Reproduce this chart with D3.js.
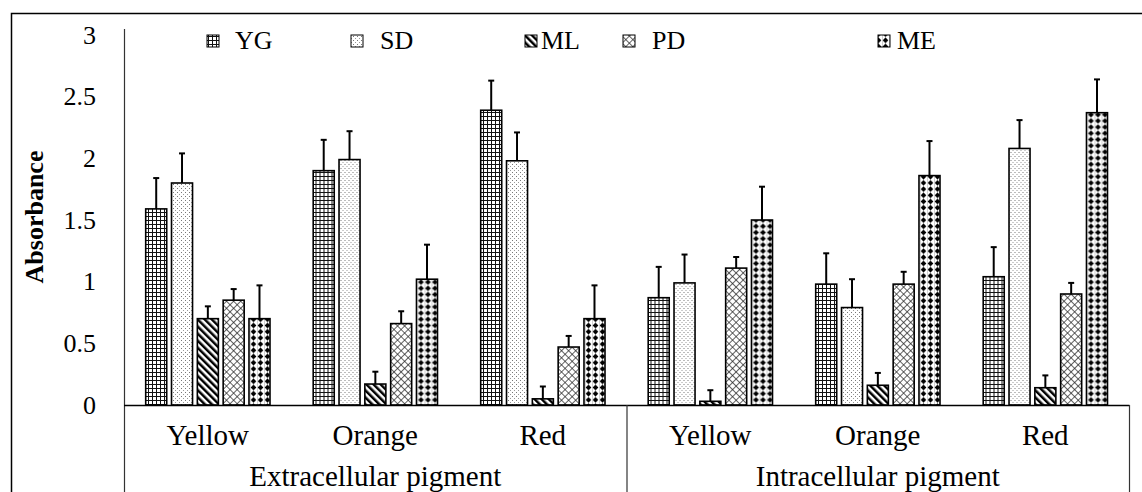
<!DOCTYPE html>
<html lang="en">
<head>
  <meta charset="UTF-8">
  <title>Absorbance of extracellular and intracellular pigments</title>
  <script src="https://d3js.org/d3.v7.min.js"></script>
  <style type="text/css">
    body {
      margin: 0;
      background: #fff;
    }
    svg text {
      font-family: "Liberation Serif", "Times New Roman", serif;
      fill: #000;
    }
  </style>
</head>
<body>
  <div id="chart"></div>

  <script>
    // categories on the x axis (colour of the pigment, two groups of three)
    var colours = ["Yellow", "Orange", "Red", "Yellow", "Orange", "Red"];
    var groups = ["Extracellular pigment", "Intracellular pigment"];
    var seriesNames = ["YG", "SD", "ML", "PD", "ME"];
    var yTicks = [0, 0.5, 1, 1.5, 2, 2.5, 3];

    // mean absorbance, one value per category
    var YG = [1.59, 1.90, 2.39, 0.87, 0.98, 1.04];
    var SD = [1.80, 1.99, 1.98, 0.99, 0.79, 2.08];
    var ML = [0.70, 0.17, 0.05, 0.03, 0.16, 0.14];
    var PD = [0.85, 0.66, 0.47, 1.11, 0.98, 0.90];
    var ME = [0.70, 1.02, 0.70, 1.50, 1.86, 2.37];

    // error bar heights (upper side only)
    var YGerr = [0.25, 0.25, 0.24, 0.25, 0.25, 0.24];
    var SDerr = [0.24, 0.23, 0.23, 0.23, 0.23, 0.23];
    var MLerr = [0.10, 0.10, 0.10, 0.09, 0.10, 0.10];
    var PDerr = [0.09, 0.10, 0.09, 0.09, 0.10, 0.09];
    var MEerr = [0.27, 0.28, 0.27, 0.27, 0.28, 0.27];

    var values = {YG: YG, SD: SD, ML: ML, PD: PD, ME: ME};
    var errors = {YG: YGerr, SD: SDerr, ML: MLerr, PD: PDerr, ME: MEerr};

    // flatten into rows the scales can use
    var rows = [];
    seriesNames.forEach(function(s) {
      colours.forEach(function(c, i) {
        rows.push({series: s, cat: i, value: values[s][i], err: errors[s][i]});
      });
    });

    var W = 1142, H = 492;
    var plot = {left: 124, right: 1129, top: 29, zero: 405};

    var svg = d3.select("#chart").append("svg")
        .attr("width", W)
        .attr("height", H);

    // ---- hatch patterns (black & white fills like the original) ----
    var defs = svg.append("defs");
    function pattern(id, w, h, transform) {
      var p = defs.append("pattern")
          .attr("id", id)
          .attr("patternUnits", "userSpaceOnUse")
          .attr("width", w)
          .attr("height", h);
      if (transform) p.attr("patternTransform", transform);
      p.append("rect").attr("width", w).attr("height", h).attr("fill", "#fff");
      return p;
    }

    // YG: dense grid
    pattern("pYG", 4, 4)
      .append("path")
        .attr("d", "M0 0.5H4M0.5 0V4")
        .attr("stroke", "#111")
        .attr("stroke-width", 1);

    // SD: sparse grey dots
    var pSD = pattern("pSD", 4, 4);
    pSD.append("rect").attr("x", 1).attr("y", 0).attr("width", 1).attr("height", 1).attr("fill", "#777");
    pSD.append("rect").attr("x", 3).attr("y", 2).attr("width", 1).attr("height", 1).attr("fill", "#999");

    // ML: wide downward diagonal stripes
    pattern("pML", 5, 5, "rotate(-45)")
      .append("line")
        .attr("x1", 1.25).attr("y1", 0)
        .attr("x2", 1.25).attr("y2", 5)
        .attr("stroke", "#000")
        .attr("stroke-width", 2.5);

    // PD: diagonal crosshatch
    pattern("pPD", 5, 5, "rotate(45)")
      .append("path")
        .attr("d", "M0 0.4H5M0.4 0V5")
        .attr("stroke", "#222")
        .attr("stroke-width", 0.8);

    // ME: large black dots
    var pME = pattern("pME", 7, 6.2);
    pME.append("path")
        .attr("d", "M3.5 0.3L6.3 3.1L3.5 5.9L0.7 3.1Z")
        .attr("fill", "#000");
    pME.append("line")
        .attr("x1", 0.2).attr("y1", 0).attr("x2", 0.2).attr("y2", 6.2)
        .attr("stroke", "#999").attr("stroke-width", 0.6);

    var fillFor = function(s) { return "url(#p" + s + ")"; };

    // ---- scales ----
    var x0 = d3.scaleBand()
        .domain(d3.range(colours.length))
        .range([plot.left, plot.right]);

    var x1 = d3.scaleBand()
        .domain(seriesNames)
        .range([19.3, x0.bandwidth() - 19.1])
        .paddingInner(0.186)
        .paddingOuter(0.093);

    var y = d3.scaleLinear()
        .domain([0, 3])
        .range([plot.zero, 35]);

    // outer frame (only left and top edges fall inside the picture)
    svg.append("path")
        .attr("d", "M11.5," + H + "V13.5H" + W)
        .attr("fill", "none")
        .attr("stroke", "#000")
        .attr("stroke-width", 1.5);

    // ---- y axis (labels only, line drawn by hand) ----
    var yAxis = d3.axisLeft(y)
        .tickValues(yTicks)
        .tickSize(0)
        .tickPadding(0)
        .tickFormat(d3.format("~g"));

    var gy = svg.append("g")
        .attr("transform", "translate(96,0)")
        .call(yAxis);
    gy.select(".domain").remove();
    gy.selectAll("text")
        .style("font-family", "'Liberation Serif', 'Times New Roman', serif")
        .style("font-size", "26px")
        .attr("fill", "#000");

    svg.append("line")
        .attr("x1", plot.left + 0.5).attr("x2", plot.left + 0.5)
        .attr("y1", plot.top).attr("y2", H)
        .attr("stroke", "#333")
        .attr("stroke-width", 1.2);

    svg.append("text")
        .attr("transform", "translate(43,217) rotate(-90)")
        .attr("text-anchor", "middle")
        .style("font-size", "26px")
        .style("font-weight", "bold")
        .text("Absorbance");

    // ---- bars ----
    var catG = svg.selectAll(".cat")
        .data(d3.range(colours.length))
      .enter().append("g")
        .attr("class", "cat")
        .attr("transform", function(i) { return "translate(" + x0(i) + ",0)"; });

    catG.selectAll("rect")
        .data(function(i) { return rows.filter(function(r) { return r.cat === i; }); })
      .enter().append("rect")
        .attr("x", function(d) { return x1(d.series); })
        .attr("y", function(d) { return y(d.value); })
        .attr("width", x1.bandwidth())
        .attr("height", function(d) { return y(0) - y(d.value); })
        .attr("fill", function(d) { return fillFor(d.series); })
        .attr("stroke", "#000")
        .attr("stroke-width", 1.6);

    // error bars
    var eb = catG.selectAll(".err")
        .data(function(i) { return rows.filter(function(r) { return r.cat === i; }); })
      .enter().append("g")
        .attr("class", "err")
        .attr("transform", function(d) { return "translate(" + (x1(d.series) + x1.bandwidth() / 2) + ",0)"; });

    eb.append("line")
        .attr("x1", 0).attr("x2", 0)
        .attr("y1", function(d) { return y(d.value); })
        .attr("y2", function(d) { return y(d.value + d.err); })
        .attr("stroke", "#000")
        .attr("stroke-width", 2);

    eb.append("line")
        .attr("x1", -3).attr("x2", 3)
        .attr("y1", function(d) { return y(d.value + d.err); })
        .attr("y2", function(d) { return y(d.value + d.err); })
        .attr("stroke", "#000")
        .attr("stroke-width", 2);

    // ---- baseline and category frame ----
    svg.append("line")
        .attr("x1", plot.left).attr("x2", plot.right + 0.5)
        .attr("y1", plot.zero + 0.5).attr("y2", plot.zero + 0.5)
        .attr("stroke", "#000")
        .attr("stroke-width", 1.5);

    [3, 6].forEach(function(k) {
      var xx = k < colours.length ? x0(k) : plot.right;
      svg.append("line")
          .attr("x1", xx + 0.5).attr("x2", xx + 0.5)
          .attr("y1", plot.zero).attr("y2", H)
          .attr("stroke", "#333")
          .attr("stroke-width", 1.2);
    });

    svg.selectAll(".catLabel")
        .data(colours)
      .enter().append("text")
        .attr("class", "catLabel")
        .attr("x", function(d, i) { return x0(i) + x0.bandwidth() / 2; })
        .attr("y", 445)
        .attr("text-anchor", "middle")
        .style("font-size", "29px")
        .text(function(d) { return d; });

    svg.selectAll(".groupLabel")
        .data(groups)
      .enter().append("text")
        .attr("class", "groupLabel")
        .attr("x", function(d, i) { return x0(i * 3) + x0.bandwidth() * 1.5; })
        .attr("y", 486)
        .attr("text-anchor", "middle")
        .style("font-size", "29px")
        .text(function(d) { return d; });

    // ---- legend ----
    var legendIconX = [207, 351, 525, 623, 878];
    var legendTextX = [235, 380, 541, 652, 897];

    var lg = svg.selectAll(".legend")
        .data(seriesNames)
      .enter().append("g")
        .attr("class", "legend");

    lg.append("rect")
        .attr("x", function(d, i) { return legendIconX[i]; })
        .attr("y", 35)
        .attr("width", 12)
        .attr("height", 12)
        .attr("fill", function(d) { return fillFor(d); })
        .attr("stroke", "#000")
        .attr("stroke-width", 1);

    lg.append("text")
        .attr("x", function(d, i) { return legendTextX[i]; })
        .attr("y", 49)
        .style("font-size", "26px")
        .text(function(d) { return d; });
  </script>
</body>
</html>
